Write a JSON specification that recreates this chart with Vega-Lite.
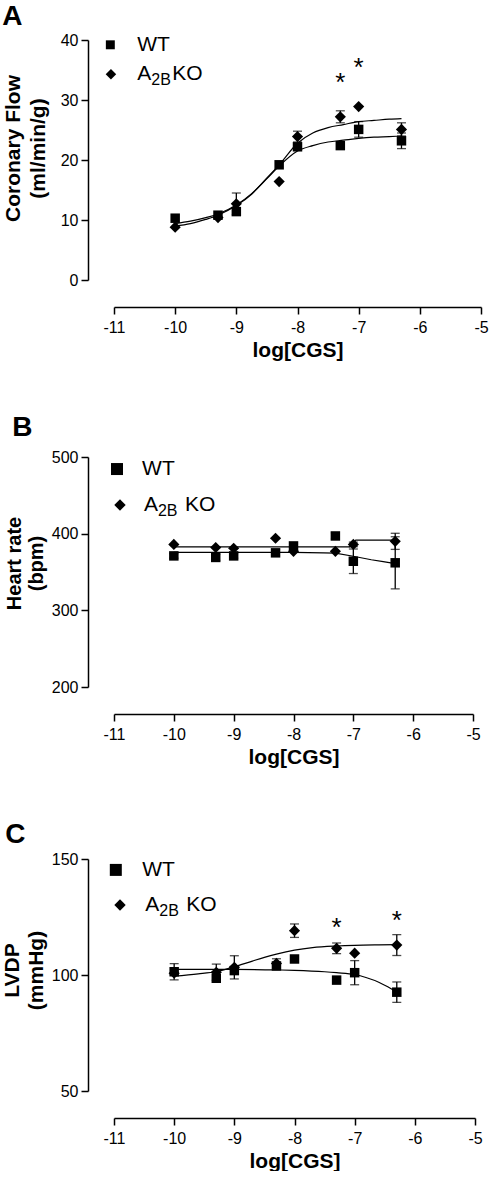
{
  "$schema": "https://vega.github.io/schema/vega-lite/v6.json",
  "padding": {"left": 1, "top": 3, "right": 0, "bottom": 0},
  "background": "white",
  "datasets": {
    "flow": [
      {"dose": -10, "group": "WT", "y": 10.3, "sem": 0},
      {"dose": -9.3, "group": "WT", "y": 10.8, "sem": 0},
      {"dose": -9, "group": "WT", "y": 11.4, "sem": 0},
      {"dose": -8.3, "group": "WT", "y": 19.2, "sem": 0},
      {"dose": -8, "group": "WT", "y": 22.2, "sem": 0},
      {"dose": -7.3, "group": "WT", "y": 22.4, "sem": 0},
      {"dose": -7, "group": "WT", "y": 25.1, "sem": 1.3},
      {"dose": -6.3, "group": "WT", "y": 23.2, "sem": 1.3},
      {"dose": -10, "group": "A2BKO", "y": 8.8, "sem": 0},
      {"dose": -9.3, "group": "A2BKO", "y": 10.4, "sem": 0},
      {"dose": -9, "group": "A2BKO", "y": 12.7, "sem": 1.8},
      {"dose": -8.3, "group": "A2BKO", "y": 16.4, "sem": 0},
      {"dose": -8, "group": "A2BKO", "y": 23.9, "sem": 0.9},
      {"dose": -7.3, "group": "A2BKO", "y": 27.2, "sem": 1.0},
      {"dose": -7, "group": "A2BKO", "y": 28.9, "sem": 0},
      {"dose": -6.3, "group": "A2BKO", "y": 25.1, "sem": 1.1}
    ],
    "flowFit": [
      {"dose": -10, "group": "WT", "y": 9.4},
      {"dose": -9.75, "group": "WT", "y": 9.8},
      {"dose": -9.5, "group": "WT", "y": 10.4},
      {"dose": -9.3, "group": "WT", "y": 11.0},
      {"dose": -9.0, "group": "WT", "y": 12.5},
      {"dose": -8.75, "group": "WT", "y": 14.4},
      {"dose": -8.5, "group": "WT", "y": 16.9},
      {"dose": -8.3, "group": "WT", "y": 19.0},
      {"dose": -8.0, "group": "WT", "y": 21.5},
      {"dose": -7.75, "group": "WT", "y": 22.4},
      {"dose": -7.5, "group": "WT", "y": 23.0},
      {"dose": -7.25, "group": "WT", "y": 23.3},
      {"dose": -7.0, "group": "WT", "y": 23.6},
      {"dose": -6.75, "group": "WT", "y": 23.8},
      {"dose": -6.5, "group": "WT", "y": 23.9},
      {"dose": -6.3, "group": "WT", "y": 24.0},
      {"dose": -10, "group": "A2BKO", "y": 9.0},
      {"dose": -9.75, "group": "A2BKO", "y": 9.4},
      {"dose": -9.5, "group": "A2BKO", "y": 10.1},
      {"dose": -9.3, "group": "A2BKO", "y": 10.8},
      {"dose": -9.0, "group": "A2BKO", "y": 12.4},
      {"dose": -8.75, "group": "A2BKO", "y": 14.3},
      {"dose": -8.5, "group": "A2BKO", "y": 17.0},
      {"dose": -8.3, "group": "A2BKO", "y": 19.2},
      {"dose": -8.0, "group": "A2BKO", "y": 22.8},
      {"dose": -7.75, "group": "A2BKO", "y": 24.5},
      {"dose": -7.5, "group": "A2BKO", "y": 25.4},
      {"dose": -7.25, "group": "A2BKO", "y": 25.9},
      {"dose": -7.0, "group": "A2BKO", "y": 26.4},
      {"dose": -6.75, "group": "A2BKO", "y": 26.6},
      {"dose": -6.5, "group": "A2BKO", "y": 26.8},
      {"dose": -6.3, "group": "A2BKO", "y": 26.9}
    ],
    "flowStars": [
      {"dose": -7.3, "y": 33.9},
      {"dose": -7, "y": 36.3}
    ],
    "hr": [
      {"dose": -10, "group": "WT", "y": 371, "sem": 3},
      {"dose": -9.3, "group": "WT", "y": 369, "sem": 4},
      {"dose": -9, "group": "WT", "y": 371, "sem": 3},
      {"dose": -8.3, "group": "WT", "y": 375, "sem": 4},
      {"dose": -8, "group": "WT", "y": 384, "sem": 3},
      {"dose": -7.3, "group": "WT", "y": 397, "sem": 4},
      {"dose": -7, "group": "WT", "y": 364, "sem": 16},
      {"dose": -6.3, "group": "WT", "y": 362, "sem": 34},
      {"dose": -10, "group": "A2BKO", "y": 386, "sem": 0},
      {"dose": -9.3, "group": "A2BKO", "y": 382, "sem": 0},
      {"dose": -9, "group": "A2BKO", "y": 381, "sem": 0},
      {"dose": -8.3, "group": "A2BKO", "y": 394, "sem": 0},
      {"dose": -8, "group": "A2BKO", "y": 377, "sem": 0},
      {"dose": -7.3, "group": "A2BKO", "y": 377, "sem": 0},
      {"dose": -7, "group": "A2BKO", "y": 386, "sem": 3},
      {"dose": -6.3, "group": "A2BKO", "y": 390, "sem": 10.5}
    ],
    "hrFit": [
      {"dose": -10, "group": "WT", "y": 375.5},
      {"dose": -8, "group": "WT", "y": 375.5},
      {"dose": -7.5, "group": "WT", "y": 375},
      {"dose": -7.3, "group": "WT", "y": 374.5},
      {"dose": -7.0, "group": "WT", "y": 370.5},
      {"dose": -6.7, "group": "WT", "y": 366},
      {"dose": -6.5, "group": "WT", "y": 363.5},
      {"dose": -6.3, "group": "WT", "y": 361},
      {"dose": -10, "group": "A2BKO", "y": 382.7},
      {"dose": -7.06, "group": "A2BKO", "y": 382.7},
      {"dose": -6.96, "group": "A2BKO", "y": 391.5},
      {"dose": -6.3, "group": "A2BKO", "y": 391.7}
    ],
    "lvdp": [
      {"dose": -10, "group": "WT", "y": 101.4, "sem": 3.5},
      {"dose": -9.3, "group": "WT", "y": 98.6, "sem": 0},
      {"dose": -9, "group": "WT", "y": 101.9, "sem": 0},
      {"dose": -8.3, "group": "WT", "y": 103.9, "sem": 0},
      {"dose": -8, "group": "WT", "y": 106.9, "sem": 0},
      {"dose": -7.3, "group": "WT", "y": 97.8, "sem": 0},
      {"dose": -7, "group": "WT", "y": 101.0, "sem": 5.2},
      {"dose": -6.3, "group": "WT", "y": 92.6, "sem": 4.4},
      {"dose": -10, "group": "A2BKO", "y": 100.8, "sem": 0},
      {"dose": -9.3, "group": "A2BKO", "y": 101.2, "sem": 3.5},
      {"dose": -9, "group": "A2BKO", "y": 103.3, "sem": 5},
      {"dose": -8.3, "group": "A2BKO", "y": 105.0, "sem": 2},
      {"dose": -8, "group": "A2BKO", "y": 119.1, "sem": 2.9},
      {"dose": -7.3, "group": "A2BKO", "y": 111.5, "sem": 2.3},
      {"dose": -7, "group": "A2BKO", "y": 109.4, "sem": 0},
      {"dose": -6.3, "group": "A2BKO", "y": 112.9, "sem": 4.5}
    ],
    "lvdpFit": [
      {"dose": -10, "group": "WT", "y": 102.4},
      {"dose": -9, "group": "WT", "y": 102.4},
      {"dose": -8.3, "group": "WT", "y": 102.2},
      {"dose": -8, "group": "WT", "y": 102.0},
      {"dose": -7.5, "group": "WT", "y": 101.4},
      {"dose": -7.3, "group": "WT", "y": 101.0},
      {"dose": -7, "group": "WT", "y": 100.2},
      {"dose": -6.8, "group": "WT", "y": 98.8},
      {"dose": -6.6, "group": "WT", "y": 96.9},
      {"dose": -6.45, "group": "WT", "y": 94.9},
      {"dose": -6.3, "group": "WT", "y": 92.6},
      {"dose": -10, "group": "A2BKO", "y": 99.5},
      {"dose": -9.6, "group": "A2BKO", "y": 100.5},
      {"dose": -9.3, "group": "A2BKO", "y": 101.5},
      {"dose": -9, "group": "A2BKO", "y": 103.5},
      {"dose": -8.7, "group": "A2BKO", "y": 106.0},
      {"dose": -8.5, "group": "A2BKO", "y": 107.6},
      {"dose": -8.3, "group": "A2BKO", "y": 109.0},
      {"dose": -8, "group": "A2BKO", "y": 110.7},
      {"dose": -7.7, "group": "A2BKO", "y": 111.8},
      {"dose": -7.3, "group": "A2BKO", "y": 112.5},
      {"dose": -7, "group": "A2BKO", "y": 112.8},
      {"dose": -6.6, "group": "A2BKO", "y": 113.0},
      {"dose": -6.3, "group": "A2BKO", "y": 113.1}
    ],
    "lvdpStars": [
      {"dose": -7.3, "y": 123},
      {"dose": -6.3, "y": 125.9}
    ],
    "one": [{"n": 1}]
  },
  "vconcat": [
    {
      "width": 367,
      "height": 240,
      "title": {"text": "A", "dx": 0, "offset": 1},
      "layer": [
        {
          "encoding": {
            "x": {"field": "dose", "type": "quantitative", "scale": {"domain": [-11, -5]},
              "axis": {"title": "log[CGS]", "values": [-11, -10, -9, -8, -7, -6, -5], "labelExpr": "'' + datum.value"}},
            "y": {"field": "y", "type": "quantitative", "scale": {"domain": [0, 40]},
              "axis": {"title": ["Coronary Flow", "(ml/min/g)"], "values": [0, 10, 20, 30, 40], "titleFontSize": 21, "titleLineHeight": 25, "titleY": 108, "titlePadding": 12}}
          },
          "layer": [
            {
              "data": {"name": "flowFit"},
              "mark": {"type": "line", "color": "black", "strokeWidth": 1.2, "interpolate": "monotone"},
              "encoding": {"detail": {"field": "group"}}
            },
            {
              "data": {"name": "flow"},
              "transform": [{"filter": "datum.sem > 0"}],
              "mark": {"type": "errorbar", "ticks": {"size": 9}, "thickness": 1.3, "color": "black"},
              "encoding": {"yError": {"field": "sem"}, "detail": {"field": "group"}}
            },
            {
              "data": {"name": "flow"},
              "mark": {"type": "point", "filled": true, "color": "black", "opacity": 1},
              "encoding": {
                "shape": {"field": "group", "type": "nominal", "scale": {"domain": ["WT", "A2BKO"], "range": ["square", "diamond"]}, "legend": null},
                "size": {"field": "group", "type": "ordinal", "scale": {"domain": ["WT", "A2BKO"], "range": [90, 125]}, "legend": null}
              }
            },
            {
              "data": {"name": "flowStars"},
              "mark": {"type": "text", "text": "*", "fontSize": 26, "baseline": "alphabetic", "dy": 14, "color": "black"}
            }
          ]
        },
        {
          "data": {"name": "one"},
          "mark": {"type": "point", "shape": "square", "filled": true, "color": "black", "opacity": 1, "size": 80},
          "encoding": {"x": {"datum": -11.06}, "y": {"datum": 39.2}}
        },
        {
          "data": {"name": "one"},
          "mark": {"type": "point", "shape": "diamond", "filled": true, "color": "black", "opacity": 1, "size": 110},
          "encoding": {"x": {"datum": -11.05}, "y": {"datum": 34.3}}
        },
        {
          "data": {"name": "one"},
          "mark": {"type": "text", "text": "WT", "fontSize": 21, "align": "left", "baseline": "middle", "color": "black"},
          "encoding": {"x": {"datum": -10.62}, "y": {"datum": 39.2}}
        },
        {
          "data": {"name": "one"},
          "mark": {"type": "text", "text": "A", "fontSize": 21, "align": "left", "baseline": "middle", "color": "black"},
          "encoding": {"x": {"datum": -10.62}, "y": {"datum": 34.3}}
        },
        {
          "data": {"name": "one"},
          "mark": {"type": "text", "text": "2B", "fontSize": 16, "align": "left", "baseline": "middle", "dx": 14, "dy": 6, "color": "black"},
          "encoding": {"x": {"datum": -10.62}, "y": {"datum": 34.3}}
        },
        {
          "data": {"name": "one"},
          "mark": {"type": "text", "text": "KO", "fontSize": 21, "align": "left", "baseline": "middle", "dx": 35, "color": "black"},
          "encoding": {"x": {"datum": -10.62}, "y": {"datum": 34.3}}
        }
      ]
    },
    {
      "width": 359,
      "height": 230,
      "title": {"text": "B", "dx": 8, "offset": 7},
      "layer": [
        {
          "encoding": {
            "x": {"field": "dose", "type": "quantitative", "scale": {"domain": [-11, -5]},
              "axis": {"title": "log[CGS]", "values": [-11, -10, -9, -8, -7, -6, -5], "labelExpr": "'' + datum.value"}},
            "y": {"field": "y", "type": "quantitative", "scale": {"domain": [200, 500]},
              "axis": {"title": ["Heart rate", "(bpm)"], "values": [200, 300, 400, 500], "titleFontSize": 20, "titleLineHeight": 22, "titleY": 106}}
          },
          "layer": [
            {
              "data": {"name": "hrFit"},
              "mark": {"type": "line", "color": "black", "strokeWidth": 1.2},
              "encoding": {"detail": {"field": "group"}}
            },
            {
              "data": {"name": "hr"},
              "transform": [{"filter": "datum.sem > 0"}],
              "mark": {"type": "errorbar", "ticks": {"size": 9}, "thickness": 1.3, "color": "black"},
              "encoding": {"yError": {"field": "sem"}, "detail": {"field": "group"}}
            },
            {
              "data": {"name": "hr"},
              "mark": {"type": "point", "filled": true, "color": "black", "opacity": 1},
              "encoding": {
                "shape": {"field": "group", "type": "nominal", "scale": {"domain": ["WT", "A2BKO"], "range": ["square", "diamond"]}, "legend": null},
                "size": {"field": "group", "type": "ordinal", "scale": {"domain": ["WT", "A2BKO"], "range": [144, 110]}, "legend": null}
              }
            }
          ]
        },
        {
          "data": {"name": "one"},
          "mark": {"type": "point", "shape": "square", "filled": true, "color": "black", "opacity": 1, "size": 144},
          "encoding": {"x": {"datum": -10.95}, "y": {"datum": 484.3}}
        },
        {
          "data": {"name": "one"},
          "mark": {"type": "point", "shape": "diamond", "filled": true, "color": "black", "opacity": 1, "size": 130},
          "encoding": {"x": {"datum": -10.9}, "y": {"datum": 437.4}}
        },
        {
          "data": {"name": "one"},
          "mark": {"type": "text", "text": "WT", "fontSize": 21, "align": "left", "baseline": "middle", "color": "black"},
          "encoding": {"x": {"datum": -10.53}, "y": {"datum": 484.3}}
        },
        {
          "data": {"name": "one"},
          "mark": {"type": "text", "text": "A", "fontSize": 21, "align": "left", "baseline": "middle", "color": "black"},
          "encoding": {"x": {"datum": -10.5}, "y": {"datum": 437.4}}
        },
        {
          "data": {"name": "one"},
          "mark": {"type": "text", "text": "2B", "fontSize": 16, "align": "left", "baseline": "middle", "dx": 14, "dy": 6, "color": "black"},
          "encoding": {"x": {"datum": -10.5}, "y": {"datum": 437.4}}
        },
        {
          "data": {"name": "one"},
          "mark": {"type": "text", "text": "KO", "fontSize": 21, "align": "left", "baseline": "middle", "dx": 41, "color": "black"},
          "encoding": {"x": {"datum": -10.5}, "y": {"datum": 437.4}}
        }
      ]
    },
    {
      "width": 361,
      "height": 232,
      "title": {"text": "C", "dx": 4, "offset": 2},
      "layer": [
        {
          "encoding": {
            "x": {"field": "dose", "type": "quantitative", "scale": {"domain": [-11, -5]},
              "axis": {"title": "log[CGS]", "values": [-11, -10, -9, -8, -7, -6, -5], "labelExpr": "'' + datum.value"}},
            "y": {"field": "y", "type": "quantitative", "scale": {"domain": [50, 150]},
              "axis": {"title": ["LVDP", "(mmHg)"], "values": [50, 100, 150], "titleFontSize": 21, "titleLineHeight": 24, "titleY": 111}}
          },
          "layer": [
            {
              "data": {"name": "lvdpFit"},
              "mark": {"type": "line", "color": "black", "strokeWidth": 1.2, "interpolate": "monotone"},
              "encoding": {"detail": {"field": "group"}}
            },
            {
              "data": {"name": "lvdp"},
              "transform": [{"filter": "datum.sem > 0"}],
              "mark": {"type": "errorbar", "ticks": {"size": 9}, "thickness": 1.3, "color": "black"},
              "encoding": {"yError": {"field": "sem"}, "detail": {"field": "group"}}
            },
            {
              "data": {"name": "lvdp"},
              "mark": {"type": "point", "filled": true, "color": "black", "opacity": 1},
              "encoding": {
                "shape": {"field": "group", "type": "nominal", "scale": {"domain": ["WT", "A2BKO"], "range": ["square", "diamond"]}, "legend": null},
                "size": {"field": "group", "type": "ordinal", "scale": {"domain": ["WT", "A2BKO"], "range": [144, 115]}, "legend": null}
              }
            },
            {
              "data": {"name": "lvdpStars"},
              "mark": {"type": "text", "text": "*", "fontSize": 26, "baseline": "alphabetic", "dy": 14, "color": "black"}
            }
          ]
        },
        {
          "data": {"name": "one"},
          "mark": {"type": "point", "shape": "square", "filled": true, "color": "black", "opacity": 1, "size": 144},
          "encoding": {"x": {"datum": -10.97}, "y": {"datum": 145.3}}
        },
        {
          "data": {"name": "one"},
          "mark": {"type": "point", "shape": "diamond", "filled": true, "color": "black", "opacity": 1, "size": 130},
          "encoding": {"x": {"datum": -10.9}, "y": {"datum": 130.2}}
        },
        {
          "data": {"name": "one"},
          "mark": {"type": "text", "text": "WT", "fontSize": 21, "align": "left", "baseline": "middle", "color": "black"},
          "encoding": {"x": {"datum": -10.53}, "y": {"datum": 145.3}}
        },
        {
          "data": {"name": "one"},
          "mark": {"type": "text", "text": "A", "fontSize": 21, "align": "left", "baseline": "middle", "color": "black"},
          "encoding": {"x": {"datum": -10.48}, "y": {"datum": 130.2}}
        },
        {
          "data": {"name": "one"},
          "mark": {"type": "text", "text": "2B", "fontSize": 16, "align": "left", "baseline": "middle", "dx": 14, "dy": 6, "color": "black"},
          "encoding": {"x": {"datum": -10.48}, "y": {"datum": 130.2}}
        },
        {
          "data": {"name": "one"},
          "mark": {"type": "text", "text": "KO", "fontSize": 21, "align": "left", "baseline": "middle", "dx": 41, "color": "black"},
          "encoding": {"x": {"datum": -10.48}, "y": {"datum": 130.2}}
        }
      ]
    }
  ],
  "spacing": 54,
  "config": {
    "font": "Liberation Sans",
    "view": {"stroke": null},
    "text": {"font": "Liberation Sans"},
    "title": {"fontSize": 28, "fontWeight": "bold", "anchor": "start", "frame": "bounds", "color": "black", "font": "Liberation Sans"},
    "axis": {
      "grid": false,
      "domainColor": "black",
      "tickColor": "black",
      "labelColor": "black",
      "titleColor": "black",
      "domainWidth": 1.5,
      "tickWidth": 1.5,
      "tickSize": 7,
      "labelFontSize": 16,
      "labelFont": "Liberation Sans",
      "titleFont": "Liberation Sans",
      "titleFontWeight": "bold",
      "labelPadding": 3
    },
    "axisX": {"offset": 27, "titleFontSize": 21, "titlePadding": 4, "labelPadding": 5, "labelFlush": false, "labelOverlap": false},
    "axisY": {"offset": 26, "titlePadding": 5, "labelOverlap": false}
  }
}
